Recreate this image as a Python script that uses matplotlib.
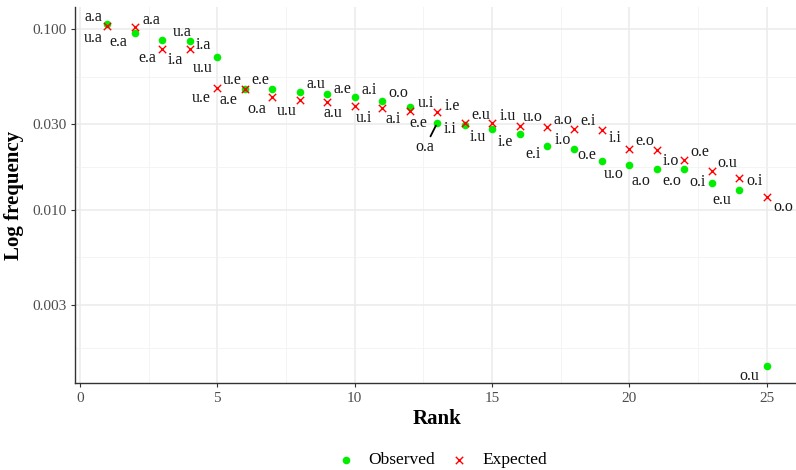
import numpy as np
import matplotlib
matplotlib.use("Agg")
import matplotlib.pyplot as plt
from matplotlib.ticker import FixedLocator, NullFormatter

plt.rcParams['font.family'] = ['Liberation Serif', 'DejaVu Serif']

# data
rank = list(range(1, 26))
observed = [0.1070, 0.0954, 0.0873, 0.0861, 0.0703, 0.0467, 0.0467, 0.0450, 0.0439, 0.0422,
            0.0401, 0.0372, 0.0303, 0.0295, 0.0281, 0.0263, 0.0226, 0.0218, 0.0187, 0.0177,
            0.0169, 0.0169, 0.0141, 0.0129, 0.00137]
expected = [0.1043, 0.1030, 0.0778, 0.0778, 0.0473, 0.0467, 0.0422, 0.0406, 0.0396, 0.0376,
            0.0367, 0.0353, 0.0349, 0.0303, 0.0303, 0.0292, 0.0288, 0.0281, 0.0277, 0.0218,
            0.0215, 0.0189, 0.0164, 0.0150, 0.0118]
obs_labels = ['a.a', 'e.a', 'u.a', 'i.a', 'u.u', 'u.e', 'e.e', 'a.u', 'a.e', 'a.i',
              'o.o', 'u.i', 'o.a', 'i.i', 'i.u', 'i.e', 'e.i', 'i.o', 'o.e', 'u.o',
              'a.o', 'e.o', 'o.i', 'e.u', 'o.u']
exp_labels = ['u.a', 'a.a', 'e.a', 'i.a', 'u.e', 'a.e', 'o.a', 'u.u', 'a.u', 'u.i',
              'a.i', 'e.e', 'i.e', 'e.u', 'i.u', 'u.o', 'a.o', 'e.i', 'i.i', 'e.o',
              'i.o', 'o.e', 'o.u', 'o.i', 'o.o']
y_breaks = [0.003, 0.01, 0.03, 0.1]
y_tick_labels = ['0.003', '0.010', '0.030', '0.100']
x_breaks = [0, 5, 10, 15, 20, 25]

# label offsets in pixels (repel-like placement), y up
obs_off = [(-14, 7), (-17, -9), (20, 8), (13, -4), (-15, -11), (-13, 9), (-12, 9), (16, 8),
           (15, 5), (14, 7), (16, 8), (16, 4), (-12, -24), (-14, -4), (-14, -8), (-14, -8),
           (-14, -8), (-12, 9), (-15, 6), (-16, -9), (-16, -12), (-13, -12), (-14, 1),
           (-17, -10), (-17, -10)]
exp_off = [(-14, -12), (17, 7), (-15, -9), (-15, -11), (-16, -10), (-16, -11), (-15, -12),
           (-13, -11), (6, -11), (9, -12), (11, -11), (9, -12), (15, 6), (16, 8), (16, 7),
           (13, 9), (16, 7), (14, 8), (13, -8), (15, 8), (14, -11), (15, 8), (16, 8),
           (15, -3), (17, -10)]
leader = 'o.a'  # only this observed label gets a segment

fig = plt.figure(figsize=(7.96, 4.70), dpi=100)
ax = fig.add_axes([74.5 / 796, (470 - 383.3) / 470, 725.2 / 796, 376.3 / 470])

ax.set_yscale('log')
lo = np.log10(min(observed + expected))
hi = np.log10(max(observed + expected))
pad = (hi - lo) * 0.05
ax.set_ylim(10 ** (lo - pad), 10 ** (hi + pad))
ax.set_xlim(1 - 24 * 0.05, 25 + 24 * 0.05)

# grid
ax.yaxis.set_major_locator(FixedLocator(y_breaks))
ax.set_yticklabels(y_tick_labels)
y_minor = [np.sqrt(a * b) for a, b in zip([0.001] + y_breaks[:-1], y_breaks)] + [np.sqrt(0.1 * 0.3)]
ax.yaxis.set_minor_locator(FixedLocator(y_minor))
ax.yaxis.set_minor_formatter(NullFormatter())
ax.xaxis.set_major_locator(FixedLocator(x_breaks))
ax.xaxis.set_minor_locator(FixedLocator([b + 2.5 for b in x_breaks]))
ax.grid(True, which='major', color='#EBEBEB', linewidth=1.1)
ax.grid(True, which='minor', color='#F2F2F2', linewidth=0.6)
ax.set_axisbelow(True)
ax.tick_params(which='minor', length=0)
ax.tick_params(which='major', length=3, width=0.8, color='#333333',
               labelsize=11, labelcolor='#4D4D4D', pad=3)
for s in ['top', 'right']:
    ax.spines[s].set_visible(False)
for s in ['left', 'bottom']:
    ax.spines[s].set_color('#333333')
    ax.spines[s].set_linewidth(1.0)

ax.scatter(rank, observed, color='#00EE00', s=30, marker='o', linewidths=0,
           label='Observed', zorder=3)
ax.scatter(rank, expected, color='#FF0000', s=28, marker='x', linewidths=1.0,
           label='Expected', zorder=3)

for r, v, t, (dx, dy) in zip(rank, observed, obs_labels, obs_off):
    arrow = None
    if t == leader:
        arrow = dict(arrowstyle='-', color='black', lw=1.3, shrinkA=0, shrinkB=2)
    ax.annotate(t, (r, v), xytext=(dx, dy), textcoords='offset pixels',
                ha='center', va='center', fontsize=11.5, color='#1A1A1A',
                arrowprops=arrow, zorder=4, annotation_clip=False)
for r, v, t, (dx, dy) in zip(rank, expected, exp_labels, exp_off):
    ax.annotate(t, (r, v), xytext=(dx, dy), textcoords='offset pixels',
                ha='center', va='center', fontsize=11.5, color='#1A1A1A',
                zorder=4, annotation_clip=False)

ax.set_xlabel('Rank', fontsize=15, fontweight='bold', labelpad=3)
ax.set_ylabel('Log frequency', fontsize=15, fontweight='bold', labelpad=6)

fig.legend(loc='center', bbox_to_anchor=(442 / 796, 1 - 460 / 470), ncol=2, frameon=False,
           fontsize=12.5, handlelength=1.0, handletextpad=0.8, columnspacing=0.9,
           markerscale=1.0, borderpad=0.2)

fig.savefig('out.png', dpi=100)
